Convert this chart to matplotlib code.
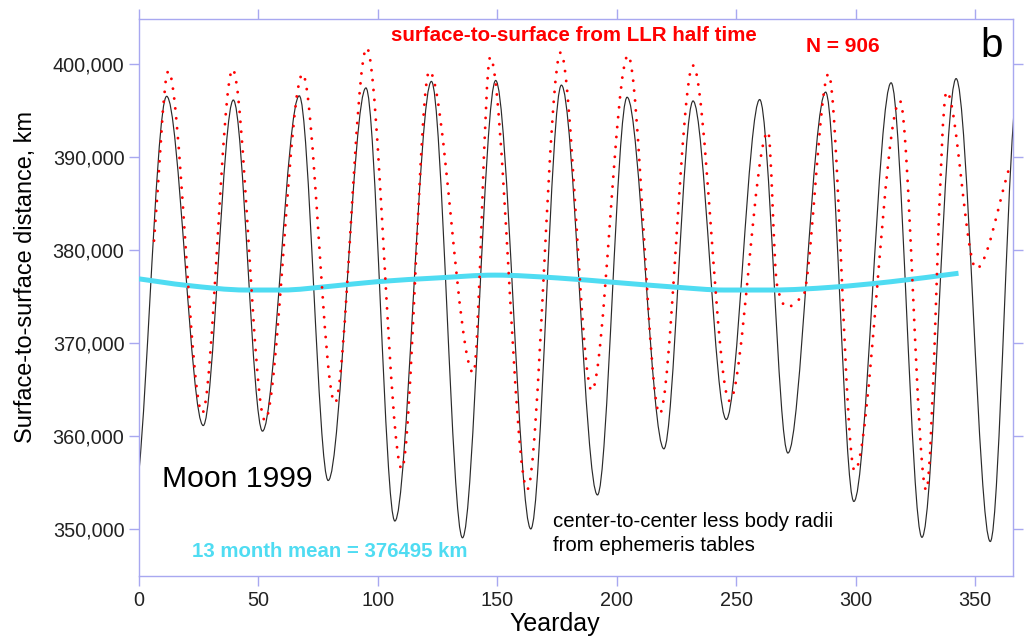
import numpy as np
import matplotlib
matplotlib.use("Agg")
import matplotlib.pyplot as plt
from matplotlib.path import Path
from matplotlib.patches import PathPatch
from matplotlib.ticker import FuncFormatter

plt.rcParams["font.family"] = ["Liberation Sans", "DejaVu Sans"]

# ephemeris distance (center-to-center less radii): turning points, yearday / km
eph_day = [-2.5, 11.6, 26.9, 39.5, 51.7, 67.1, 79.2, 95.0, 107.1, 122.4, 135.4,
           149.3, 164.0, 176.8, 191.9, 204.3, 219.7, 231.9, 245.8, 259.8, 271.6,
           287.4, 299.2, 314.8, 327.7, 342.0, 356.3, 368.0]
eph_km = [352500, 396500, 361150, 396100, 360550, 396550, 355250, 397400, 350900,
          398100, 349100, 398200, 350050, 397700, 353700, 396400, 358650, 396000,
          361800, 396150, 358200, 396950, 353000, 397950, 349150, 398400, 348700,
          397800]

# LLR half-time distances, read along the dotted track
llr_day = [6.3, 12.3, 26.5, 39.2, 52.7, 68.5, 82.0, 95.3, 110.0, 121.5, 140.0,
           147.0, 162.5, 176.5, 189.5, 204.7, 217.9, 231.9, 247.2, 263.3, 267.0,
           277.5, 288.6, 299.5, 318.5, 329.5, 338.0, 350.4, 364.5]
llr_km = [381000, 399200, 362500, 399400, 361700, 398900, 363600, 401700, 356500,
          399200, 366800, 400700, 354300, 401200, 364900, 400900, 362400, 399800,
          363800, 392700, 376300, 374800, 398900, 356300, 396000, 354200, 397000,
          378000, 389000]

# 13 month running mean
mean_day = [0, 20, 45, 60, 80, 100, 125, 149, 175, 200, 225, 245, 265, 290, 315, 343]
mean_km = [376900, 376200, 375700, 375700, 376100, 376600, 377000, 377300, 377000,
           376500, 376000, 375700, 375700, 376000, 376600, 377500]

mean_value = 376495
n_obs = 906


def smooth_path(x, y, flat_ends=True):
    # cubic Hermite segments turned into Bezier curves; flat at turning points
    x = np.asarray(x, float)
    y = np.asarray(y, float)
    n = len(x)
    m = np.zeros(n)
    for i in range(1, n - 1):
        if (y[i] - y[i - 1]) * (y[i + 1] - y[i]) > 0:
            m[i] = (y[i + 1] - y[i - 1]) / (x[i + 1] - x[i - 1])
    if not flat_ends:
        m[0] = (y[1] - y[0]) / (x[1] - x[0])
        m[-1] = (y[-1] - y[-2]) / (x[-1] - x[-2])
    verts = [(x[0], y[0])]
    codes = [Path.MOVETO]
    for i in range(n - 1):
        h = (x[i + 1] - x[i]) / 3
        verts += [(x[i] + h, y[i] + m[i] * h),
                  (x[i + 1] - h, y[i + 1] - m[i + 1] * h),
                  (x[i + 1], y[i + 1])]
        codes += [Path.CURVE4] * 3
    return Path(verts, codes)


frame = "#a8a8f0"
cyan = "#4fdcf2"

fig = plt.figure(figsize=(10.24, 6.37), dpi=100)
ax = fig.add_axes([0.1357, 0.0958, 0.8540, 0.8744])

ax.add_patch(PathPatch(smooth_path(eph_day, eph_km), fill=False,
                       edgecolor="#2a2a2a", lw=0.85, zorder=2))
ax.add_patch(PathPatch(smooth_path(mean_day, mean_km, flat_ends=False), fill=False,
                       edgecolor=cyan, lw=3.6, capstyle="butt", zorder=3))
ax.add_patch(PathPatch(smooth_path(llr_day, llr_km, flat_ends=False), fill=False,
                       edgecolor="red", lw=2.1, linestyle=(0, (0.01, 3.4)),
                       capstyle="round", zorder=4))

ax.set_xlim(0, 366)
ax.set_ylim(345000, 404800)
ax.set_xticks(np.arange(0, 351, 50))
ax.set_yticks(np.arange(350000, 400001, 10000))
ax.yaxis.set_major_formatter(FuncFormatter(lambda v, p: f"{v:,.0f}"))

for s in ax.spines.values():
    s.set_color(frame)
    s.set_linewidth(1.0)
ax.tick_params(direction="out", length=7, width=1.0, color=frame,
               top=True, right=True, labelsize=14.3, labelcolor="#222222")

ax.set_xlabel("Yearday", fontsize=18)
ax.xaxis.set_label_coords(0.4757, -0.064)
ax.xaxis.label.set_va("top")
ax.set_ylabel("Surface-to-surface distance, km", fontsize=16.9)
ax.yaxis.set_label_coords(-0.1166, 0.537)

ax.text(0.4977, 0.9605, "surface-to-surface from LLR half time", transform=ax.transAxes,
        ha="center", va="baseline", color="red", fontsize=14.8, fontweight="bold")
ax.text(0.7624, 0.9413, f"N = {n_obs}", transform=ax.transAxes,
        ha="left", va="baseline", color="red", fontsize=15, fontweight="bold")
ax.text(0.988, 0.9318, "b", transform=ax.transAxes, ha="right", va="baseline",
        fontsize=29, color="black")
ax.text(0.026, 0.160, "Moon 1999", transform=ax.transAxes, ha="left", va="baseline",
        fontsize=21.7, color="black")
ax.text(0.2184, 0.0336, f"13 month mean = {mean_value} km", transform=ax.transAxes,
        ha="center", va="baseline", color=cyan, fontsize=14.7, fontweight="bold")
ax.text(0.4734, 0.0885, "center-to-center less body radii", transform=ax.transAxes,
        ha="left", va="baseline", fontsize=14.7, color="black")
ax.text(0.4734, 0.0449, "from ephemeris tables", transform=ax.transAxes,
        ha="left", va="baseline", fontsize=14.7, color="black")

fig.savefig("out.png", dpi=100)
